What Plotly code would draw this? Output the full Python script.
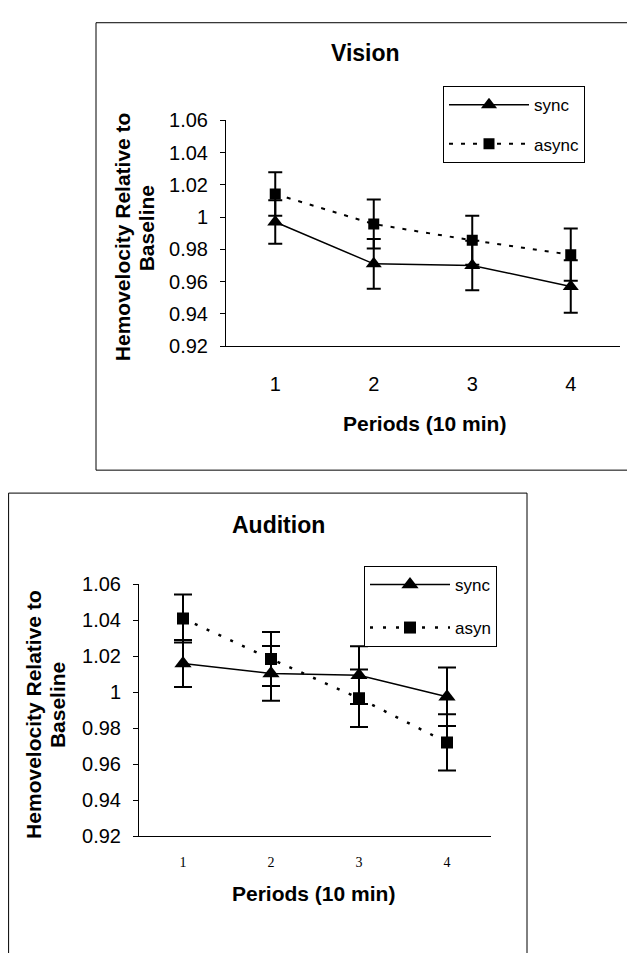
import plotly.graph_objects as go

W, H = 627, 953

# ---------------- data ----------------
periods = [1, 2, 3, 4]
period_labels = ["1", "2", "3", "4"]
y_tickvals = [0.92, 0.94, 0.96, 0.98, 1.00, 1.02, 1.04, 1.06]
y_ticktext = ["0.92", "0.94", "0.96", "0.98", "1", "1.02", "1.04", "1.06"]

vision_sync = [0.997, 0.971, 0.970, 0.957]
vision_sync_err = [0.0135, 0.0155, 0.0153, 0.0163]
vision_async = [1.0143, 0.9957, 0.9856, 0.9767]
vision_async_err = [0.0135, 0.0152, 0.0152, 0.0162]

audition_sync = [1.016, 1.0105, 1.0095, 0.9975]
audition_sync_err = [0.013, 0.0152, 0.016, 0.0162]
audition_async = [1.041, 1.0185, 0.9967, 0.9722]
audition_async_err = [0.0133, 0.015, 0.016, 0.0156]

titles = ["Vision", "Audition"]
legend_names_top = ["sync", "async"]
legend_names_bottom = ["sync", "asyn"]
y_title_lines = ["Hemovelocity Relative to", "Baseline"]
x_title = "Periods (10 min)"


def px(x):
    return x / W


def py(y):
    return 1 - y / H


SANS = "Liberation Sans, Arial, sans-serif"
SERIF = "Liberation Serif, Times New Roman, serif"

fig = go.Figure()


def add_series(y, err, name, xa, ya, legend, group, dash, symbol, msize, lw, capw):
    fig.add_trace(go.Scatter(
        x=periods, y=y, name=name, xaxis=xa, yaxis=ya, legend=legend,
        legendgroup=group, mode="lines+markers",
        line=dict(color="black", width=lw, dash=dash),
        marker=dict(symbol=symbol, size=msize, color="black"),
        error_y=dict(type="data", array=err, visible=True, color="black",
                     thickness=2, width=capw),
    ))


# top (Vision)
add_series(vision_sync, vision_sync_err, legend_names_top[0], "x", "y", "legend",
           "v1", "solid", "triangle-up", 14, 1.5, 7)
add_series(vision_async, vision_async_err, legend_names_top[1], "x", "y", "legend",
           "v2", "4px,8px", "square", 11, 2, 7)
# bottom (Audition)
add_series(audition_sync, audition_sync_err, legend_names_bottom[0], "x2", "y2", "legend2",
           "a1", "solid", "triangle-up", 15, 1.5, 9)
add_series(audition_async, audition_async_err, legend_names_bottom[1], "x2", "y2", "legend2",
           "a2", "3px,10px", "square", 12, 2.5, 9)

yaxis_common = dict(range=[0.92, 1.06], tickvals=y_tickvals, ticktext=y_ticktext,
                    showline=True, linecolor="black", linewidth=1, ticks="outside",
                    ticklen=5, tickcolor="black", showgrid=False, zeroline=False,
                    ticklabelstandoff=8)

fig.update_layout(
    width=W, height=H, margin=dict(l=0, r=0, t=0, b=0),
    paper_bgcolor="white", plot_bgcolor="white",
    font=dict(family=SANS, color="black"),
    xaxis=dict(domain=[px(226), px(620)], range=[0.5, 4.5], tickvals=periods,
               ticktext=period_labels, showline=True, linecolor="black", linewidth=1,
               ticks="", showgrid=False, zeroline=False, anchor="y",
               tickfont=dict(family=SANS, size=20), ticklabelstandoff=20),
    yaxis=dict(domain=[py(343), py(112)], anchor="x",
               tickfont=dict(family=SANS, size=20), **yaxis_common),
    xaxis2=dict(domain=[px(139), px(491)], range=[0.5, 4.5], tickvals=periods,
                ticktext=period_labels, showline=True, linecolor="black", linewidth=1,
                ticks="", showgrid=False, zeroline=False, anchor="y2",
                tickfont=dict(family=SERIF, size=14),
                ticklabelstandoff=13),
    yaxis2=dict(domain=[py(845), py(586.7)], anchor="x2",
                tickfont=dict(family=SANS, size=20), **yaxis_common),
    legend=dict(x=px(443), y=py(77), xanchor="left", yanchor="top",
                bgcolor="white", bordercolor="black", borderwidth=1,
                font=dict(family=SANS, size=17), itemwidth=80,
                tracegroupgap=14),
    legend2=dict(x=px(364), y=py(568), xanchor="left", yanchor="top",
                 bgcolor="white", bordercolor="black", borderwidth=1,
                 font=dict(family=SANS, size=17), itemwidth=80,
                 tracegroupgap=18),
    showlegend=True,
)

# panel frames
fig.add_shape(type="rect", xref="paper", yref="paper",
              x0=px(96), x1=px(640), y0=py(470), y1=py(12),
              line=dict(color="black", width=1), layer="below")
fig.add_shape(type="rect", xref="paper", yref="paper",
              x0=px(8.6), x1=px(527), y0=py(970), y1=py(493.5),
              line=dict(color="black", width=1), layer="below")

bold = lambda s: dict(family=SANS, size=s, color="black")

ann = []
# titles
ann.append(dict(text="<b>%s</b>" % titles[0], x=px(365), y=py(43), font=bold(23)))
ann.append(dict(text="<b>%s</b>" % titles[1], x=px(278), y=py(526), font=bold(23)))
# x titles
ann.append(dict(text="<b>%s</b>" % x_title, x=px(425), y=py(422), font=bold(21)))
ann.append(dict(text="<b>%s</b>" % x_title, x=px(313.5), y=py(903), font=bold(21)))
# y titles (top)
ann.append(dict(text="<b>%s</b>" % y_title_lines[0], x=px(122), y=py(231.5),
                textangle=-90, font=bold(21)))
ann.append(dict(text="<b>%s</b>" % y_title_lines[1], x=px(146), y=py(222.5),
                textangle=-90, font=bold(21)))
# y titles (bottom)
ann.append(dict(text="<b>%s</b>" % y_title_lines[0], x=px(33.5), y=py(720),
                textangle=-90, font=bold(21)))
ann.append(dict(text="<b>%s</b>" % y_title_lines[1], x=px(57.5), y=py(711),
                textangle=-90, font=bold(21)))

for a in ann:
    a.update(xref="paper", yref="paper", showarrow=False,
             xanchor="center", yanchor="middle")
    fig.add_annotation(**a)

fig.write_html("out.html")
